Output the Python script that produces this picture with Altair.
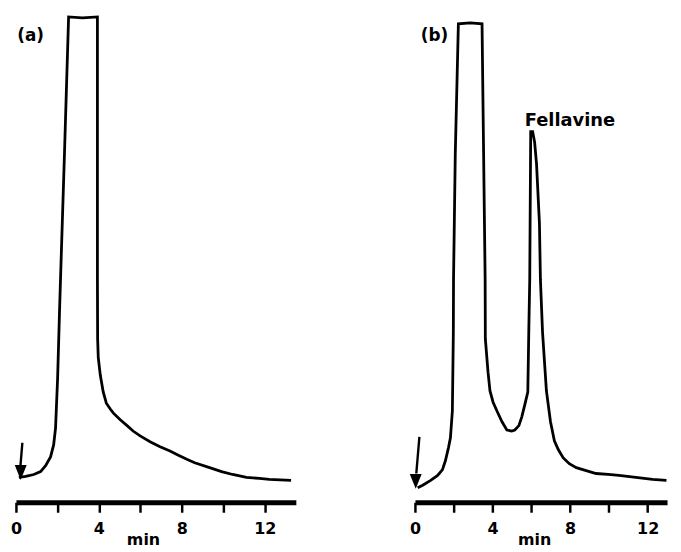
import altair as alt
import pandas as pd

# ---- panel (a): blank chromatogram ----
time_a = [0.14, 0.47, 0.86, 1.19, 1.43, 1.67, 1.82, 1.91, 2.01, 2.10, 2.15, 2.34, 2.54,
          3.21, 3.93, 3.93, 3.94, 3.97, 4.07, 4.21, 4.36, 4.55, 4.69, 5.03, 5.36, 5.65,
          5.99, 6.47, 6.95, 7.43, 7.81, 8.24, 8.62, 9.34, 9.92, 10.45, 11.12, 11.74, 12.22, 13.27]
signal_a = [5.1, 5.3, 5.7, 6.3, 7.5, 9.3, 11.8, 15.2, 25.4, 38.8, 45.7, 71.3, 99.4,
            99.2, 99.4, 45.7, 33.5, 29.7, 26.0, 22.6, 20.3, 19.1, 18.3, 16.9, 15.7, 14.6,
            13.6, 12.4, 11.4, 10.5, 9.7, 8.8, 8.1, 7.1, 6.3, 5.7, 5.1, 4.9, 4.7, 4.5]

# ---- panel (b): sample with Fellavine peak ----
time_b = [0.14, 0.40, 0.81, 1.17, 1.42, 1.57, 1.73, 1.83, 1.93, 1.98, 1.99, 2.08, 2.24,
          2.85, 3.46, 3.51, 3.62, 3.63, 3.77, 3.87, 4.03, 4.23, 4.49, 4.74, 4.99, 5.15,
          5.36, 5.51, 5.66, 5.82, 5.87, 5.92, 5.97, 6.07, 6.17, 6.27, 6.42, 6.47, 6.58,
          6.78, 6.99, 7.19, 7.39, 7.65, 7.96, 8.32, 8.83, 9.34, 9.96, 10.52, 11.39, 12.25, 12.97]
signal_b = [3.0, 3.5, 4.5, 5.5, 6.7, 8.5, 11.2, 13.2, 18.7, 34.8, 45.7, 71.3, 98.0,
            98.2, 98.0, 81.5, 45.7, 33.5, 26.6, 22.8, 20.5, 18.7, 16.5, 14.8, 14.6, 14.8,
            15.7, 17.5, 19.9, 22.6, 34.8, 45.7, 75.9, 75.9, 73.8, 69.3, 57.1, 45.7, 34.8,
            22.8, 16.5, 12.6, 10.8, 9.1, 7.9, 7.1, 6.5, 5.9, 5.7, 5.5, 5.1, 4.7, 4.5]

# injection arrows (shaft start / end, head centre)
arrow_a_time = [0.31, 0.21]
arrow_a_signal = [12.2, 7.1]
head_a_time = [0.23]
head_a_signal = [6.1]
arrow_b_time = [0.23, 0.07]
arrow_b_signal = [13.4, 5.9]
head_b_time = [0.04]
head_b_signal = [4.3]

# texts
panel_labels = ["(a)", "(b)"]
panel_label_time = [0.71, 1.01]
panel_label_signal = [95.5, 95.5]
peak_label = ["Fellavine"]
peak_label_time = [5.66]
peak_label_signal = [78.0]

tick_values = [0, 2, 4, 6, 8, 10, 12]
axis_title = "min"

FONT = "DejaVu Sans"
HEIGHT = 492


def panel(time, signal, xmax, width, arr_t, arr_v, head_t, head_v,
          lab, lab_t, lab_v, title_x, peak=None):
    df = pd.DataFrame({"t": time, "v": signal, "i": list(range(len(time)))})
    xs = alt.Scale(domain=[0, xmax], nice=False, zero=False)
    ys = alt.Scale(domain=[0, 100], nice=False)
    x = alt.X("t:Q", scale=xs,
              axis=alt.Axis(values=tick_values,
                            labelExpr="datum.value % 4 == 0 ? datum.label : ''",
                            title=axis_title, titleX=title_x, titleAlign="center"))
    y = alt.Y("v:Q", scale=ys, axis=None)

    line = alt.Chart(df).mark_line(color="black", strokeWidth=2.8,
                                   strokeJoin="miter").encode(x=x, y=y, order="i:Q")

    adf = pd.DataFrame({"t": [arr_t[0]], "v": [arr_v[0]], "t2": [arr_t[1]], "v2": [arr_v[1]]})
    shaft = alt.Chart(adf).mark_rule(color="black", strokeWidth=2.4).encode(
        x=alt.X("t:Q", scale=xs), y=alt.Y("v:Q", scale=ys), x2="t2:Q", y2="v2:Q")

    hdf = pd.DataFrame({"t": head_t, "v": head_v})
    head = alt.Chart(hdf).mark_point(shape="M-0.8,-1L0.8,-1L0,1Z", filled=True,
                                     color="black", opacity=1, size=225).encode(
        x=alt.X("t:Q", scale=xs), y=alt.Y("v:Q", scale=ys))

    ldf = pd.DataFrame({"t": [lab_t], "v": [lab_v], "s": [lab]})
    label = alt.Chart(ldf).mark_text(font=FONT, fontWeight="bold", fontSize=17,
                                     color="black", align="center",
                                     baseline="middle").encode(
        x=alt.X("t:Q", scale=xs), y=alt.Y("v:Q", scale=ys), text="s:N")

    layers = [line, shaft, head, label]
    if peak is not None:
        pdf = pd.DataFrame({"t": peak_label_time, "v": peak_label_signal, "s": peak})
        layers.append(alt.Chart(pdf).mark_text(font=FONT, fontWeight="bold", fontSize=18,
                                               color="black", align="left",
                                               baseline="middle").encode(
            x=alt.X("t:Q", scale=xs), y=alt.Y("v:Q", scale=ys), text="s:N"))
    return alt.layer(*layers).properties(width=width, height=HEIGHT)


pa = panel(time_a, signal_a, 13.5, 282, arrow_a_time, arrow_a_signal,
           head_a_time, head_a_signal, panel_labels[0], panel_label_time[0],
           panel_label_signal[0], 128)
pb = panel(time_b, signal_b, 13.0, 254, arrow_b_time, arrow_b_signal,
           head_b_time, head_b_signal, panel_labels[1], panel_label_time[1],
           panel_label_signal[1], 120, peak=peak_label)

chart = alt.hconcat(pa, pb, spacing=120, bounds="flush").properties(
    padding={"left": 2, "top": 1, "right": 0, "bottom": 0},
    background="white",
).configure_view(stroke=None).configure_axis(
    grid=False,
    domainColor="black", domainWidth=5, domainCap="butt",
    tickColor="black", tickWidth=2.5, tickSize=10,
    labelFont=FONT, labelFontWeight="bold", labelFontSize=16, labelColor="black",
    labelPadding=8, labelFlush=False, labelOverlap=False,
    titleFont=FONT, titleFontWeight="bold", titleFontSize=16, titleColor="black",
    titlePadding=-5,
)

chart.save("out.html", embed_options={"renderer": "svg", "actions": False})
